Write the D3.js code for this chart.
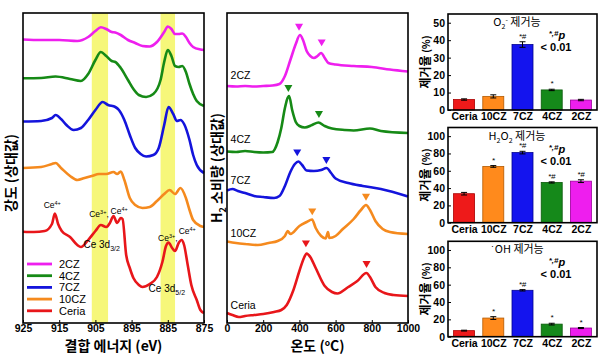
<!DOCTYPE html>
<html><head><meta charset="utf-8">
<script src="https://cdn.jsdelivr.net/npm/d3@7"></script>
<style>
body{margin:0;background:#fff}
svg{display:block}
text{font-family:"Liberation Sans",Arial,"Noto Sans CJK KR",sans-serif;fill:#000}
.kr{font-family:"Noto Sans CJK KR","Liberation Sans",sans-serif}
</style>
</head><body>
<svg id="c" width="600" height="360"></svg>
<script>
// ---------------- DATA ----------------
const samples = ["2CZ","4CZ","7CZ","10CZ","Ceria"];

// XPS Ce 3d spectra: [binding energy (eV), relative intensity incl. stacking offset]
const xps2CZ = [[925,283.5],[920,283],[915,283],[910,282],[907,286],[905,292],[903.5,295.7],[902,294],[900.5,291],[899.5,290.5],[898,288],[896,283],[894,280],[892,277],[890,276.5],[888,281],[886,291],[885,296.5],[884,294],[883,289],[882,289],[881,289.5],[880,286],[879,280],[878,276],[876,273.5],[875,273]];
const xps4CZ = [[925,244.7],[920,245],[916,246.5],[912,244],[909,242],[907,249],[905,263],[903.5,271],[902,267],[900.5,262],[899.5,261],[898,255],[896,243],[894.5,234],[893,228],[891,226],[889,229],[887,243],[886,261],[885,273],[884,267],[883,257],[882,256],[881,257],[880,251],[879,239],[878,229],[877,222],[875,217]];
const xps7CZ = [[925,201.5],[920,202],[917,205],[916,208],[914.5,204],[913,198],[911,193],[909,195],[907,203],[905,213],[903,221],[901.5,218],[899.5,216],[898.5,213],[897,203],[895.5,188],[894,175],[892.5,169],[891,166.5],[889,168],[887.5,175],[886,198],[884.8,216],[883.5,209],[882.5,202],[881.5,203],[880.5,199],[879,183],[878,168],[877,158],[875,150]];
const xps10CZ = [[925,155],[920,156],[917,159],[916,160],[914.5,155],[912,147],[910,143],[908,145],[906,147],[904,149],[902,149],[900,151],[899,149],[898,151.5],[897,143],[895.5,125],[894,118],[892,115],[890,116],[888,122],[886,129],[884.5,133],[883,129],[881.5,135],[880,125],[879,113],[878,103],[876,97],[875,96]];
const xpsCeria = [[925,91.3],[922,91],[919,92],[917,99],[916.2,109.5],[915.3,99],[914.3,92],[912,86],[910,78],[909,76],[907,83],[905,92],[903.5,98],[902,96],[901,100],[900,107],[899,100],[898,105],[897.5,104],[896.5,68],[895.5,55],[894.5,45],[893,38],[892,36],[890,39],[888,46],[886.5,61],[885.5,77],[884.8,80.5],[883.8,75],[883,72],[882,80],[881.2,83],[880.5,78],[879.5,58],[878.5,38],[877,23],[876,13],[875,10]];
const xpsBands = [[906,901.5],[887,883]];
const xpsTicks = [925,915,905,895,885,875];

// H2-TPR: [temperature (°C), relative H2 consumption incl. offset]
const tpr2CZ = [[0,237],[50,236.5],[100,237],[150,236.5],[200,237],[250,237.5],[290,239],[320,247],[350,263],[380,279],[403,288],[420,283],[440,272],[460,267],[480,265],[500,267],[520,270],[540,265],[560,260],[600,258.5],[700,257],[800,256],[900,253.5],[1000,251.5]];
const tpr4CZ = [[0,171.5],[50,171],[100,172],[150,171],[200,170.5],[250,171],[280,181],[300,195],[320,215],[343,227],[360,213],[380,201],[400,197],[430,195.5],[470,198],[505,200.5],[540,197],[580,194.5],[650,193],[700,192.5],[790,194.5],[850,192],[1000,190]];
const tpr7CZ = [[0,132.5],[30,134],[60,132],[100,130],[150,127],[200,126],[260,125],[290,127],[320,137],[350,151],[375,159],[395,161.5],[415,158],[440,152.5],[480,152],[520,153],[550,155],[575,150],[600,144.5],[670,140],[750,137],[850,134],[1000,126.5]];
const tpr10CZ = [[0,81.5],[50,80],[100,79],[170,78],[230,80],[280,82],[320,87],[335,92],[350,89],[400,97],[440,101],[470,103.5],[490,95],[520,87],[545,84.5],[558,91],[565,85],[600,87],[640,94],[700,104],[740,113],[768,118],[790,113],[820,102],[860,94],[900,91],[1000,89]];
const tprCeria = [[0,10],[30,8],[65,6],[100,7],[150,8],[200,9],[260,11],[300,13],[330,18],[365,32],[400,52],[425,65],[440,69.5],[460,66],[490,55],[540,37],[580,31],[610,29.5],[670,36],[720,42],[770,50],[790,46],[820,36],[870,30],[920,28],[1000,27]];
const tprMarkers = {"2CZ":[[398,297],[523,281.3]],"4CZ":[[339,235.7],[508,209.7]],"7CZ":[[388,171.3],[549,163.7]],"10CZ":[[471,112.3],[768,127]],"Ceria":[[436,80.3],[771,59.7]]};
const tprTicks = [0,200,400,600,800,1000];

// Scavenging activity (%)
const barCategories = ["Ceria","10CZ","7CZ","4CZ","2CZ"];
const o2Values = [6.0,7.8,37.5,11.5,5.7];
const o2Errors = [0.4,0.9,1.6,0.4,0.4];
const o2Marks  = ["","","*#","*",""];
const h2o2Values = [33.5,65,81,46.5,48];
const h2o2Errors = [1.5,1.0,1.5,0.7,1.6];
const h2o2Marks  = ["","*","*#","*#","*#"];
const ohValues = [7,21.5,53.5,14.5,10];
const ohErrors = [0.5,1.6,0.8,1.0,0.6];
const ohMarks  = ["","*","*#","*","*"];
const o2Ticks = [0,10,20,30,40,50];
const pctTicks = [0,20,40,60,80,100];

// ---------------- STYLE ----------------
const col = {"2CZ":"#ee1fee","4CZ":"#168a16","7CZ":"#1414dc","10CZ":"#f58a1e","Ceria":"#e8161a"};
const barCol = {"Ceria":"#ee1a1a","10CZ":"#ff8a1c","7CZ":"#1414ee","4CZ":"#15891a","2CZ":"#ee1eee"};
const barEdge = {"Ceria":"#a00","10CZ":"#b35a00","7CZ":"#000090","4CZ":"#0a5a0a","2CZ":"#9a009a"};

const svg = d3.select("#c");

// ---------- Panel A: XPS ----------
const A = {x0:23,x1:204,y0:13,y1:323};
const xA = d3.scaleLinear().domain([925,875]).range([A.x0,A.x1]);
const yA = d3.scaleLinear().domain([0,310]).range([A.y1,A.y0]);
const gA = svg.append("g");
gA.selectAll("rect.band").data(xpsBands).join("rect")
  .attr("x",d=>xA(d[0])).attr("width",d=>xA(d[1])-xA(d[0]))
  .attr("y",A.y0).attr("height",A.y1-A.y0).attr("fill","#f6f77a");
const xpsSeries = {"2CZ":xps2CZ,"4CZ":xps4CZ,"7CZ":xps7CZ,"10CZ":xps10CZ,"Ceria":xpsCeria};
const lineA = d3.line().x(d=>xA(d[0])).y(d=>yA(d[1])).curve(d3.curveMonotoneX);
samples.forEach(s=>{
  gA.append("path").attr("d",lineA(xpsSeries[s])).attr("fill","none")
    .attr("stroke",col[s]).attr("stroke-width",2.6).attr("stroke-linejoin","round");
});
gA.append("rect").attr("x",A.x0).attr("y",A.y0).attr("width",A.x1-A.x0).attr("height",A.y1-A.y0)
  .attr("fill","none").attr("stroke","#000").attr("stroke-width",1.6);
const axA = d3.axisBottom(xA).tickValues(xpsTicks).tickSizeInner(-3).tickSizeOuter(0).tickPadding(2).tickFormat(d3.format("d"));
gA.append("g").attr("transform",`translate(0,${A.y1})`).call(axA)
  .call(g=>g.select(".domain").remove())
  .call(g=>g.selectAll("text").attr("font-size",10.5).attr("font-family","Liberation Sans, Arial").attr("font-weight","bold").attr("fill","#111"));
gA.append("text").attr("class","kr").attr("x",(A.x0+A.x1)/2).attr("y",351).attr("text-anchor","middle")
  .attr("font-size",14).attr("font-weight","bold").text("결합 에너지 (eV)");
gA.append("text").attr("class","kr").attr("transform","translate(16,173) rotate(-90)").attr("text-anchor","middle")
  .attr("font-size",14).attr("font-weight","bold").text("강도 (상대값)");

// annotations
function ceLabel(g, x, y, sup, comma){
  const t = g.append("text").attr("x",x).attr("y",y).attr("font-size",8.5).attr("font-family","Liberation Sans, Arial");
  t.append("tspan").text("Ce");
  t.append("tspan").attr("dy",-3).attr("font-size",5.5).text(sup);
  if(comma) t.append("tspan").attr("dy",3).text(",");
  return t;
}
ceLabel(gA, xA(919.3), yA(115), "4+", false);
ceLabel(gA, xA(906.7), yA(106), "3+", true);
ceLabel(gA, xA(900.8), yA(109), "4+", false);
ceLabel(gA, xA(887.7), yA(82), "3+", true);
ceLabel(gA, xA(882.0), yA(89), "4+", false);
function cdLabel(g,x,y,sub){
  const t = g.append("text").attr("x",x).attr("y",y).attr("font-size",10).attr("font-family","DejaVu Sans, sans-serif");
  t.append("tspan").text("Ce 3d");
  t.append("tspan").attr("dy",3).attr("font-size",7).text(sub);
}
cdLabel(gA, xA(908.3), yA(75), "3/2");
cdLabel(gA, xA(890.3), yA(31.3), "5/2");

// legend
samples.forEach((s,i)=>{
  const y = 264 + i*11.7;
  gA.append("line").attr("x1",27).attr("x2",52).attr("y1",y).attr("y2",y).attr("stroke",col[s]).attr("stroke-width",2.8);
  gA.append("text").attr("x",59).attr("y",y+4).attr("font-size",11).attr("font-family","DejaVu Sans, sans-serif").text(s);
});

// ---------- Panel B: TPR ----------
const B = {x0:227,x1:408,y0:13,y1:323};
const xB = d3.scaleLinear().domain([0,1000]).range([B.x0,B.x1]);
const yB = d3.scaleLinear().domain([0,310]).range([B.y1,B.y0]);
const gB = svg.append("g");
const tprSeries = {"2CZ":tpr2CZ,"4CZ":tpr4CZ,"7CZ":tpr7CZ,"10CZ":tpr10CZ,"Ceria":tprCeria};
const lineB = d3.line().x(d=>xB(d[0])).y(d=>yB(d[1])).curve(d3.curveMonotoneX);
samples.forEach(s=>{
  gB.append("path").attr("d",lineB(tprSeries[s])).attr("fill","none")
    .attr("stroke",col[s]).attr("stroke-width",2.6).attr("stroke-linejoin","round");
  tprMarkers[s].forEach(m=>{
    gB.append("path").attr("d",d3.symbol(d3.symbolTriangle,28)())
      .attr("transform",`translate(${xB(m[0])},${yB(m[1])}) rotate(180)`).attr("fill",col[s]);
  });
});
const tprLabelPos = {"2CZ":[20,244],"4CZ":[20,180],"7CZ":[20,139],"10CZ":[20,86],"Ceria":[20,14]};
samples.forEach(s=>{
  gB.append("text").attr("x",xB(tprLabelPos[s][0])).attr("y",yB(tprLabelPos[s][1]))
    .attr("font-size",10.5).attr("font-family","DejaVu Sans, sans-serif").text(s);
});
gB.append("rect").attr("x",B.x0).attr("y",B.y0).attr("width",B.x1-B.x0).attr("height",B.y1-B.y0)
  .attr("fill","none").attr("stroke","#000").attr("stroke-width",1.6);
const axB = d3.axisBottom(xB).tickValues(tprTicks).tickSizeInner(-3).tickSizeOuter(0).tickPadding(2).tickFormat(d3.format("d"));
gB.append("g").attr("transform",`translate(0,${B.y1})`).call(axB)
  .call(g=>g.select(".domain").remove())
  .call(g=>g.selectAll("text").attr("font-size",10.5).attr("font-family","Liberation Sans, Arial").attr("font-weight","bold").attr("fill","#111"));
const tB = gB.append("text").attr("class","kr").attr("x",(B.x0+B.x1)/2).attr("y",351).attr("text-anchor","middle")
  .attr("font-size",14).attr("font-weight","bold");
tB.append("tspan").text("온도 (");
tB.append("tspan").attr("dy",-5).attr("font-size",8.5).text("o");
tB.append("tspan").attr("dy",5).text("C)");
const yt = gB.append("text").attr("class","kr").attr("transform","translate(222,168) rotate(-90)").attr("text-anchor","middle")
  .attr("font-size",14).attr("font-weight","bold");
yt.append("tspan").text("H");
yt.append("tspan").attr("dy",4).attr("font-size",9).text("2");
yt.append("tspan").attr("dy",-4).text(" 소비량 (상대값)");

// ---------- Panel C: bars ----------
const xC = d3.scalePoint().domain(barCategories).range([448,597]).padding(0.55);
const bw = 21;
const panels = [
  {y0:14,y1:110,max:55,ticks:o2Ticks,vals:o2Values,errs:o2Errors,marks:o2Marks,title:"O2-"},
  {y0:127.5,y1:222.7,max:110,ticks:pctTicks,vals:h2o2Values,errs:h2o2Errors,marks:h2o2Marks,title:"H2O2"},
  {y0:241.3,y1:336.7,max:110,ticks:pctTicks,vals:ohValues,errs:ohErrors,marks:ohMarks,title:"OH"}
];
panels.forEach(P=>{
  const g = svg.append("g");
  const y = d3.scaleLinear().domain([0,P.max]).range([P.y1,P.y0]);
  barCategories.forEach((c,i)=>{
    const v=P.vals[i], e=P.errs[i], cx=xC(c);
    g.append("rect").attr("x",cx-bw/2).attr("width",bw).attr("y",y(v)).attr("height",y(0)-y(v))
      .attr("fill",barCol[c]).attr("stroke",barEdge[c]).attr("stroke-width",0.8);
    g.append("line").attr("x1",cx).attr("x2",cx).attr("y1",y(v+e)).attr("y2",y(v-e)).attr("stroke","#000").attr("stroke-width",1);
    [v+e,v-e].forEach(w=>g.append("line").attr("x1",cx-3).attr("x2",cx+3).attr("y1",y(w)).attr("y2",y(w)).attr("stroke","#000").attr("stroke-width",1));
    if(P.marks[i]) g.append("text").attr("x",cx).attr("y",y(v+e)-3).attr("text-anchor","middle")
      .attr("font-size",8).attr("font-style","italic").attr("font-family","DejaVu Sans, sans-serif").text(P.marks[i]);
  });
  g.append("rect").attr("x",448).attr("y",P.y0).attr("width",149).attr("height",P.y1-P.y0)
    .attr("fill","none").attr("stroke","#000").attr("stroke-width",1.6);
  g.append("g").attr("transform",`translate(448,0)`)
    .call(d3.axisLeft(y).tickValues(P.ticks).tickSizeInner(-3).tickSizeOuter(0).tickPadding(3))
    .call(a=>a.select(".domain").remove())
    .call(a=>a.selectAll("text").attr("font-size",10.5).attr("font-weight","bold").attr("font-family","Liberation Sans, Arial").attr("fill","#111"));
  g.append("g").attr("transform",`translate(0,${P.y1})`)
    .call(d3.axisBottom(xC).tickSize(0).tickPadding(3))
    .call(a=>a.select(".domain").remove())
    .call(a=>a.selectAll("text").attr("font-size",10.5).attr("font-weight","bold").attr("font-family","Liberation Sans, Arial").attr("fill","#111"));
  const my=(P.y0+P.y1)/2;
  const yl = g.append("text").attr("class","kr").attr("transform",`translate(430,${my}) rotate(-90)`).attr("text-anchor","middle")
    .attr("font-size",12).attr("font-weight","bold");
  yl.append("tspan").text("제거율 ");
  yl.append("tspan").attr("font-size",10).text("(%)");
  // title
  const tt = g.append("text").attr("class","kr").attr("x",517).attr("y",P.y0+12).attr("text-anchor","middle").attr("font-size",11);
  if(P.title==="O2-"){
    tt.append("tspan").text("O"); tt.append("tspan").attr("dy",3).attr("font-size",7).text("2");
    tt.append("tspan").attr("dy",-7).attr("font-size",7).text("-"); tt.append("tspan").attr("dy",4).text(" 제거능");
  } else if(P.title==="H2O2"){
    tt.append("tspan").text("H"); tt.append("tspan").attr("dy",3).attr("font-size",7).text("2");
    tt.append("tspan").attr("dy",-3).text("O"); tt.append("tspan").attr("dy",3).attr("font-size",7).text("2");
    tt.append("tspan").attr("dy",-3).text(" 제거능");
  } else {
    tt.append("tspan").attr("dy",-4).attr("font-size",8).text("·"); tt.append("tspan").attr("dy",4).text("OH 제거능");
  }
  // p-value note
  const pn = g.append("text").attr("x",557).attr("y",P.y0+25).attr("text-anchor","middle").attr("font-size",11).attr("font-weight","bold").attr("font-style","italic");
  pn.append("tspan").attr("dy",-3).attr("font-size",8).text("*,#");
  pn.append("tspan").attr("dy",3).text("p");
  g.append("text").attr("x",556).attr("y",P.y0+37).attr("text-anchor","middle").attr("font-size",11).attr("font-weight","bold").text("< 0.01");
});
</script>
</body></html>
